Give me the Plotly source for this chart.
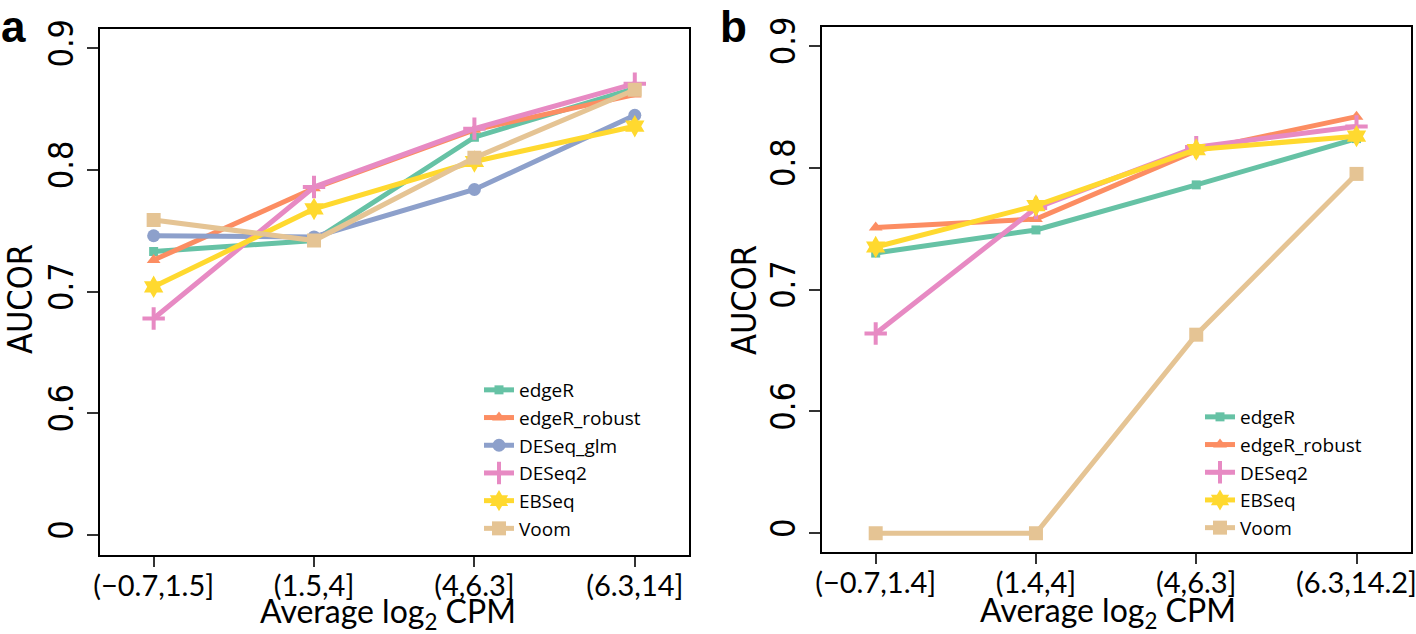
import plotly.graph_objects as go

W, H = 1416, 634

# ---------------- data ----------------
cats_a = ["(\u22120.7,1.5]", "(1.5,4]", "(4,6.3]", "(6.3,14]"]
cats_b = ["(\u22120.7,1.4]", "(1.4,4]", "(4,6.3]", "(6.3,14.2]"]

edgeR_a = [0.733, 0.742, 0.827, 0.867]
edgeR_robust_a = [0.726, 0.785, 0.833, 0.862]
DESeq_glm_a = [0.746, 0.745, 0.784, 0.845]
DESeq2_a = [0.678, 0.786, 0.834, 0.871]
EBSeq_a = [0.704, 0.768, 0.807, 0.836]
Voom_a = [0.759, 0.742, 0.810, 0.866]

edgeR_b = [0.730, 0.749, 0.786, 0.824]
edgeR_robust_b = [0.751, 0.758, 0.814, 0.842]
DESeq2_b = [0.664, 0.767, 0.817, 0.834]
EBSeq_b = [0.735, 0.769, 0.815, 0.826]
Voom_b = [0.0, 0.0, 0.663, 0.795]

y_tick_vals = [0.5, 0.6, 0.7, 0.8, 0.9]
y_tick_text = ["0", "0.6", "0.7", "0.8", "0.9"]

# broken axis: a value of 0 is drawn in the slot labelled "0"
BREAK_SLOT = 0.5
def to_axis(vals):
    return [v if v >= BREAK_SLOT else BREAK_SLOT for v in vals]

colors = {
    "edgeR": "#66C2A5",
    "edgeR_robust": "#FC8D62",
    "DESeq_glm": "#8DA0CB",
    "DESeq2": "#E78AC3",
    "EBSeq": "#FFD92F",
    "Voom": "#E5C494",
}
markers = {
    "edgeR": dict(symbol="square", size=9),
    "edgeR_robust": dict(symbol="triangle-up", size=12),
    "DESeq_glm": dict(symbol="circle", size=13),
    "DESeq2": dict(symbol="cross-thin", size=16),
    "EBSeq": dict(symbol="hexagram", size=17),
    "Voom": dict(symbol="square", size=14),
}

series_a = [("edgeR", edgeR_a), ("edgeR_robust", edgeR_robust_a), ("DESeq_glm", DESeq_glm_a),
            ("DESeq2", DESeq2_a), ("EBSeq", EBSeq_a), ("Voom", Voom_a)]
series_b = [("edgeR", edgeR_b), ("edgeR_robust", edgeR_robust_b),
            ("DESeq2", DESeq2_b), ("EBSeq", EBSeq_b), ("Voom", Voom_b)]

fig = go.Figure()

def add_series(series, cats, xa, ya, legend):
    for name, vals in series:
        m = markers[name]
        c = colors[name]
        mk = dict(symbol=m["symbol"], size=m["size"], color=c,
                  line=dict(color=c, width=4 if m["symbol"] == "cross-thin" else 0))
        fig.add_trace(go.Scatter(
            x=cats, y=to_axis(vals), name=name, mode="lines+markers",
            line=dict(color=c, width=5), marker=mk,
            xaxis=xa, yaxis=ya, legend=legend, showlegend=True))

add_series(series_a, cats_a, "x", "y", "legend")
add_series(series_b, cats_b, "x2", "y2", "legend2")

def px_x(p):
    return p / W

def px_y(p):
    return 1 - p / H

tick_font = dict(family="Liberation Sans Narrow, DejaVu Sans Condensed, Liberation Sans, Arial", size=34, color="black")
xtick_font = dict(family="Lato, Open Sans, sans-serif", size=29, color="black")
legend_font = dict(family="Open Sans, Lato, sans-serif", size=19, color="black")

common_x = dict(type="category", showline=True, mirror=True, linecolor="black", linewidth=2,
                ticks="outside", ticklen=10, tickwidth=1.5, tickcolor="#333",
                showgrid=False, zeroline=False, tickfont=xtick_font, automargin=False,
                ticklabelstandoff=-6)
common_y = dict(showline=True, mirror=True, linecolor="black", linewidth=2,
                ticks="outside", ticklen=11, tickwidth=1.5, tickcolor="#333",
                showgrid=False, zeroline=False, tickvals=y_tick_vals, ticktext=y_tick_text,
                tickangle=-90, tickfont=tick_font, automargin=False)

fig.update_layout(
    width=W, height=H,
    margin=dict(l=0, r=0, t=0, b=0, autoexpand=False),
    paper_bgcolor="white", plot_bgcolor="white",
    xaxis=dict(common_x, domain=[px_x(99.6), px_x(689)], range=[-0.337, 3.338], anchor="y"),
    yaxis=dict(common_y, domain=[px_y(555), px_y(29)], range=[0.4836, 0.9159], anchor="x"),
    xaxis2=dict(common_x, domain=[px_x(822), px_x(1411)], range=[-0.335, 3.34], anchor="y2"),
    yaxis2=dict(common_y, domain=[px_y(552), px_y(27)], range=[0.4846, 0.9156], anchor="x2"),
    legend=dict(x=px_x(479), y=px_y(371), xanchor="left", yanchor="top",
                bgcolor="rgba(0,0,0,0)", borderwidth=0, font=legend_font,
                tracegroupgap=0),
    legend2=dict(x=px_x(1200), y=px_y(398), xanchor="left", yanchor="top",
                 bgcolor="rgba(0,0,0,0)", borderwidth=0, font=legend_font,
                 tracegroupgap=0),
    showlegend=True,
)

title_font = dict(family="Lato, Open Sans, sans-serif", size=32, color="black")
ylab_font = dict(family="Liberation Sans Narrow, DejaVu Sans Condensed, Liberation Sans, Arial", size=34, color="black")
panel_font = dict(family="Liberation Sans, Arial", size=44, color="black")

annotations = [
    dict(text="AUCOR", x=px_x(20), y=px_y(299), textangle=-90, font=ylab_font),
    dict(text="AUCOR", x=px_x(744), y=px_y(300), textangle=-90, font=ylab_font),
    dict(text="Average log<sub>2</sub> CPM", x=px_x(388), y=px_y(613), font=title_font),
    dict(text="Average log<sub>2</sub> CPM", x=px_x(1108), y=px_y(612), font=title_font),
    dict(text="<b>a</b>", x=px_x(13), y=1.0, font=panel_font, yanchor="top"),
    dict(text="<b>b</b>", x=px_x(733), y=1.0, font=panel_font, yanchor="top"),
]
for a in annotations:
    a.setdefault("yanchor", "middle")
    a.update(xref="paper", yref="paper", showarrow=False, xanchor="center")
fig.update_layout(annotations=annotations)

fig.write_html("out.html", config={"displayModeBar": False},
               post_script="document.body.style.margin='0px';")
